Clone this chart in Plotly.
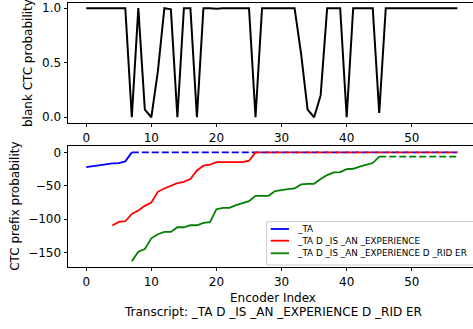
import plotly.graph_objects as go

# ---------------- data ----------------
encoder_index = list(range(58))

blank_prob = [1.0, 1.0, 1.0, 1.0, 1.0, 1.0, 1.0, 0.0, 1.0, 0.07,
              0.0, 0.42, 1.0, 0.99, 0.0, 1.0, 1.0, 0.0, 1.0, 1.0,
              0.995, 1.0, 1.0, 1.0, 1.0, 1.0, 0.0, 1.0, 1.0, 1.0,
              0.995, 0.995, 1.0, 0.58, 0.07, 0.0, 0.2, 1.0, 1.0, 1.0,
              0.0, 1.0, 1.0, 1.0, 1.0, 0.04, 1.0, 1.0, 1.0, 1.0,
              1.0, 1.0, 1.0, 1.0, 1.0, 1.0, 1.0, 1.0]

prefix_labels = ["_TA", "_TA D _IS _AN _EXPERIENCE", "_TA D _IS _AN _EXPERIENCE D _RID ER"]
prefix_colors = ["blue", "red", "green"]

# blue: _TA (solid part from 0..7, then flat)
ta_x = list(range(0, 8))
ta_y = [-22, -21, -19.5, -18, -16.5, -16, -13.5, 0]
ta_final = 0

# red: _TA D _IS _AN _EXPERIENCE (solid part from 4..26)
exp_x = list(range(4, 27))
exp_y = [-109.5, -104, -103, -92, -87, -80, -75, -59, -54, -50,
         -46, -44, -40, -27, -20, -18.5, -14.5, -14.5, -14.5, -14.5,
         -14.5, -12.5, 0]
exp_final = 0

# green: full transcript (solid part from 7..45)
full_x = list(range(7, 46))
full_y = [-163, -148.5, -144.5, -128.5, -122.5, -119, -119, -112, -112, -109,
          -109, -105.5, -104.5, -85, -83, -83, -79, -76, -73, -65,
          -65, -65, -58, -56, -55, -54, -48, -47, -47, -40,
          -34, -30, -29.5, -25, -24.5, -21.5, -19, -16, -6.5]
full_final = -6.5

top_yticks = [0.0, 0.5, 1.0]
bot_yticks = [0, -50, -100, -150]
xticks = [0, 10, 20, 30, 40, 50]

transcript = "Transcript: _TA D _IS _AN _EXPERIENCE D _RID ER"

# ---------------- figure ----------------
W, H = 473, 329
ML = 68
PW = W - ML


def px(x):
    return (x - ML) / PW


def py(y):
    return 1 - y / H


FONT = "DejaVu Sans"
FS = 12
fig = go.Figure()

fig.add_trace(go.Scatter(x=encoder_index, y=blank_prob, mode="lines",
                         line=dict(color="black", width=2), xaxis="x", yaxis="y",
                         showlegend=False))

solid = [(ta_x, ta_y, ta_final), (exp_x, exp_y, exp_final), (full_x, full_y, full_final)]
for (xs, ys, fin), col, lab in zip(solid, prefix_colors, prefix_labels):
    fig.add_trace(go.Scatter(x=xs, y=ys, mode="lines", name=lab,
                             line=dict(color=col, width=1.8),
                             xaxis="x2", yaxis="y2", showlegend=False))
    fig.add_trace(go.Scatter(x=[xs[-1], encoder_index[-1]], y=[fin, fin], mode="lines",
                             line=dict(color=col, width=1.8, dash="7px,3px"),
                             xaxis="x2", yaxis="y2", showlegend=False))

axis_common = dict(showline=True, linecolor="black", linewidth=1, ticks="outside",
                   ticklen=3.5, tickwidth=1, tickcolor="black", showgrid=False,
                   zeroline=False, automargin=False,
                   tickfont=dict(family=FONT, size=FS, color="black"))

xrange = [-2.8, 59.4]
fig.update_layout(
    width=W, height=H,
    margin=dict(l=ML, r=0, t=0, b=0),
    plot_bgcolor="white", paper_bgcolor="white",
    font=dict(family=FONT, size=FS, color="black"),
    showlegend=False,
    xaxis=dict(domain=[0, 1], range=xrange, anchor="y", tickvals=xticks, mirror=True, **axis_common),
    yaxis=dict(domain=[py(122.7), py(2.7)], range=[-0.05, 1.05], anchor="x",
               tickvals=top_yticks, tickformat=".1f", **axis_common),
    xaxis2=dict(domain=[0, 1], range=xrange, anchor="y2", tickvals=xticks, mirror=True, **axis_common),
    yaxis2=dict(domain=[py(266.7), py(146)], range=[-171, 9.5], anchor="x2",
                tickvals=bot_yticks, **axis_common),
)

annos = [
    dict(text="blank CTC probability", x=px(28.5), y=py(63.5), textangle=-90),
    dict(text="CTC prefix probability", x=px(15.5), y=py(206.3), textangle=-90),
    dict(text="Encoder Index", x=px(272.5), y=py(297.7)),
    dict(text=transcript, x=px(272.5), y=py(311.7)),
]
for a in annos:
    fig.add_annotation(xref="paper", yref="paper", showarrow=False,
                       xanchor="center", yanchor="middle",
                       font=dict(family=FONT, size=FS, color="black"), **a)

# legend box (drawn manually to match compact matplotlib legend)
fig.add_shape(type="rect", xref="paper", yref="paper",
              x0=px(266.7), x1=px(474), y0=py(265), y1=py(221.7),
              line=dict(color="#cccccc", width=1), fillcolor="rgba(255,255,255,0.8)", layer="above")
rows = [229, 240.7, 253.3]
for lab, col, ry in zip(prefix_labels, prefix_colors, rows):
    fig.add_shape(type="line", xref="paper", yref="paper",
                  x0=px(270.7), x1=px(289), y0=py(ry), y1=py(ry),
                  line=dict(color=col, width=1.8), layer="above")
    fig.add_annotation(xref="paper", yref="paper", showarrow=False,
                       x=px(295), y=py(ry), xanchor="left", yanchor="middle",
                       text=lab, font=dict(family=FONT, size=8.8, color="black"))

fig.write_html("out.html", config={"displayModeBar": False},
               post_script="document.body.style.margin='0px';")
